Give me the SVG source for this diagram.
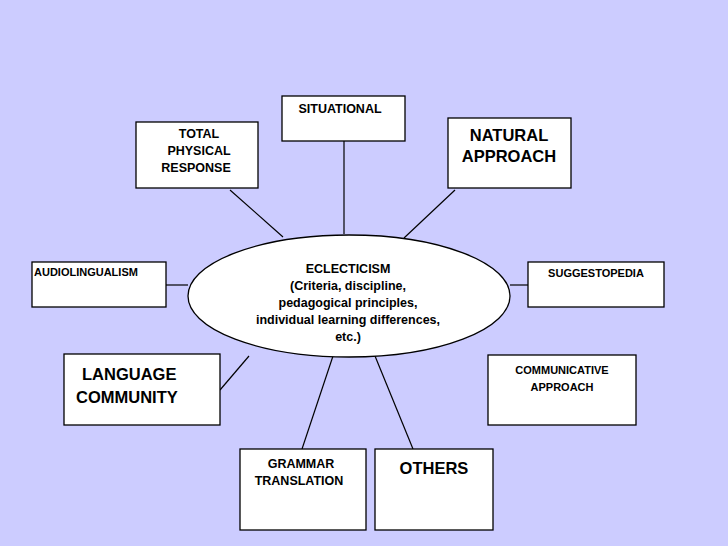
<svg xmlns="http://www.w3.org/2000/svg" width="728" height="546" viewBox="0 0 728 546">
<style>
.b{fill:#fff;stroke:#000;stroke-width:1.3}
text{font-family:"Liberation Sans",Arial,sans-serif;font-weight:bold;fill:#000}
.s{font-size:12.5px}.m{font-size:11px}.l{font-size:16.5px}
.c{text-anchor:middle}
line{stroke:#000;stroke-width:1.2}
</style>
<rect width="728" height="546" fill="#CCCCFF"/>
<g id="connectors">
<line x1="344" y1="141" x2="344" y2="234"/>
<line x1="230" y1="190" x2="283" y2="237"/>
<line x1="455" y1="190" x2="404" y2="238"/>
<line x1="166" y1="285" x2="188" y2="285"/>
<line x1="510" y1="285" x2="528" y2="285"/>
<line x1="220" y1="390" x2="249" y2="356"/>
<line x1="302" y1="449" x2="333" y2="356"/>
<line x1="413" y1="449" x2="375" y2="356"/>
</g>
<g id="center"><ellipse class="b" cx="349" cy="296" rx="161" ry="61"/>
<text class="s c" x="348" y="273">ECLECTICISM</text>
<text class="s c" x="348" y="290">(Criteria, discipline,</text>
<text class="s c" x="348" y="307">pedagogical principles,</text>
<text class="s c" x="348" y="324">individual learning differences,</text>
<text class="s c" x="348" y="341">etc.)</text></g>
<g id="situational"><rect class="b" x="282" y="96" width="123" height="45"/><text class="s c" x="340" y="113">SITUATIONAL</text></g>
<g id="tpr"><rect class="b" x="136" y="122" width="122" height="66"/>
<text class="s c" x="199" y="138">TOTAL</text><text class="s c" x="199" y="155">PHYSICAL</text><text class="s c" x="196" y="172">RESPONSE</text></g>
<g id="natural"><rect class="b" x="448" y="118" width="123" height="70"/>
<text class="l c" x="509" y="141">NATURAL</text><text class="l c" x="509" y="162">APPROACH</text></g>
<g id="audio"><rect class="b" x="32" y="262" width="134" height="45"/><text class="m" x="34" y="276">AUDIOLINGUALISM</text></g>
<g id="suggesto"><rect class="b" x="528" y="262" width="136" height="45"/><text class="m c" x="596" y="277">SUGGESTOPEDIA</text></g>
<g id="language"><rect class="b" x="64" y="354" width="156" height="71"/>
<text class="l" x="82" y="380">LANGUAGE</text><text class="l" x="76" y="403">COMMUNITY</text></g>
<g id="communicative"><rect class="b" x="488" y="355" width="148" height="70"/>
<text class="m c" x="562" y="374">COMMUNICATIVE</text><text class="m c" x="562" y="391">APPROACH</text></g>
<g id="grammar"><rect class="b" x="240" y="449" width="126" height="81"/>
<text class="s c" x="301" y="468">GRAMMAR</text><text class="s c" x="299" y="485">TRANSLATION</text></g>
<g id="others"><rect class="b" x="375" y="449" width="118" height="81"/><text class="l c" x="434" y="474">OTHERS</text></g>
</svg>
